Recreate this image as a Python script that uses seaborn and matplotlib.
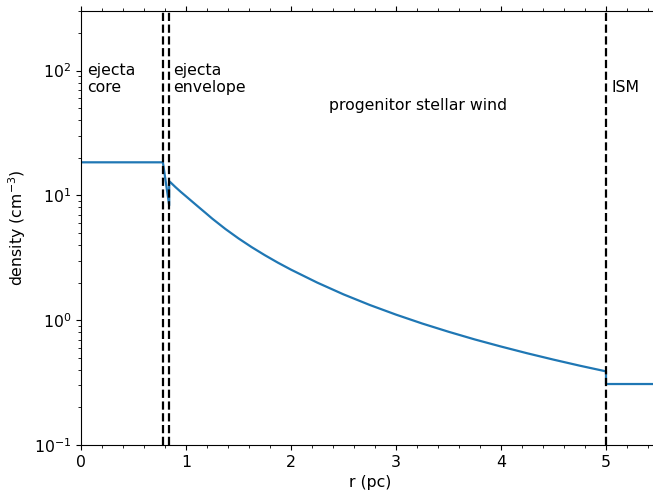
import numpy as np
import pandas as pd
import matplotlib
matplotlib.use("Agg")
import matplotlib.pyplot as plt
from matplotlib.ticker import MultipleLocator, LogLocator
import seaborn as sns

# Density profile of the supernova environment (radius in pc, density in cm^-3)
core_r = [0.0, 0.78]
core_n = [18.4, 18.4]

envelope_r = [0.78, 0.84]
envelope_n = [18.4, 8.3]

wind_r = [0.84, 0.9, 0.95, 1.0, 1.06, 1.127, 1.19, 1.25, 1.375, 1.5, 1.625,
          1.75, 1.875, 2.0, 2.25, 2.5, 2.75, 3.0, 3.25, 3.5, 3.75, 4.0,
          4.25, 4.5, 4.75, 5.0]
wind_n = [13.0, 11.64, 10.67, 9.83, 8.90, 7.97, 7.19, 6.51, 5.38, 4.52, 3.85,
          3.32, 2.89, 2.54, 2.00, 1.61, 1.324, 1.108, 0.940, 0.808, 0.701, 0.615,
          0.543, 0.483, 0.432, 0.389]

ism_r = [5.0, 5.5]
ism_n = [0.308, 0.308]

# Region boundaries
boundaries = [0.78, 0.84, 5.0]

# Region labels
label_x = [0.06, 0.875, 3.21, 5.05]
label_y = [67, 67, 48, 67]
label_text = ["ejecta\ncore", "ejecta\nenvelope", "progenitor stellar wind", "ISM"]
label_ha = ["left", "left", "center", "left"]

profile = pd.DataFrame({
    "r": core_r + envelope_r + wind_r + ism_r,
    "n": core_n + envelope_n + wind_n + ism_n,
})

sns.set_style("ticks")
plt.rcParams.update({
    "font.family": ["DejaVu Sans"],
    "font.size": 11.3,
    "text.color": "black",
    "axes.labelcolor": "black",
    "xtick.color": "black",
    "ytick.color": "black",
    "axes.edgecolor": "black",
    "axes.linewidth": 0.8,
})

fig = plt.figure(figsize=(6.53, 4.90), dpi=100)
ax = fig.add_axes([81 / 653, 45 / 490, 5.5 * 105 / 653, 434 / 490])

sns.lineplot(data=profile, x="r", y="n", estimator=None, sort=False,
             color="#1f77b4", linewidth=1.6, ax=ax)

for b in boundaries:
    ax.axvline(b, color="black", linestyle="--", linewidth=1.6)

for x, y, t, ha in zip(label_x, label_y, label_text, label_ha):
    ax.text(x, y, t, ha=ha, va="baseline", fontsize=11.3)

ax.set_yscale("log")
ax.set_xlim(0, 5.5)
ax.set_ylim(0.1, 300)
ax.xaxis.set_major_locator(MultipleLocator(1))
ax.xaxis.set_minor_locator(MultipleLocator(0.2))
ax.yaxis.set_minor_locator(LogLocator(base=10, subs=np.arange(2, 10)))
ax.tick_params(axis="x", which="both", top=True, bottom=True, direction="out")
ax.tick_params(axis="y", which="both", left=True, right=False, direction="out")
ax.tick_params(which="major", length=3.5, width=0.8)
ax.tick_params(which="minor", length=2, width=0.6)
ax.spines["right"].set_visible(False)

ax.set_xlabel("r (pc)")
ax.set_ylabel("density (cm$^{-3}$)")

fig.savefig("out.png", dpi=100)
